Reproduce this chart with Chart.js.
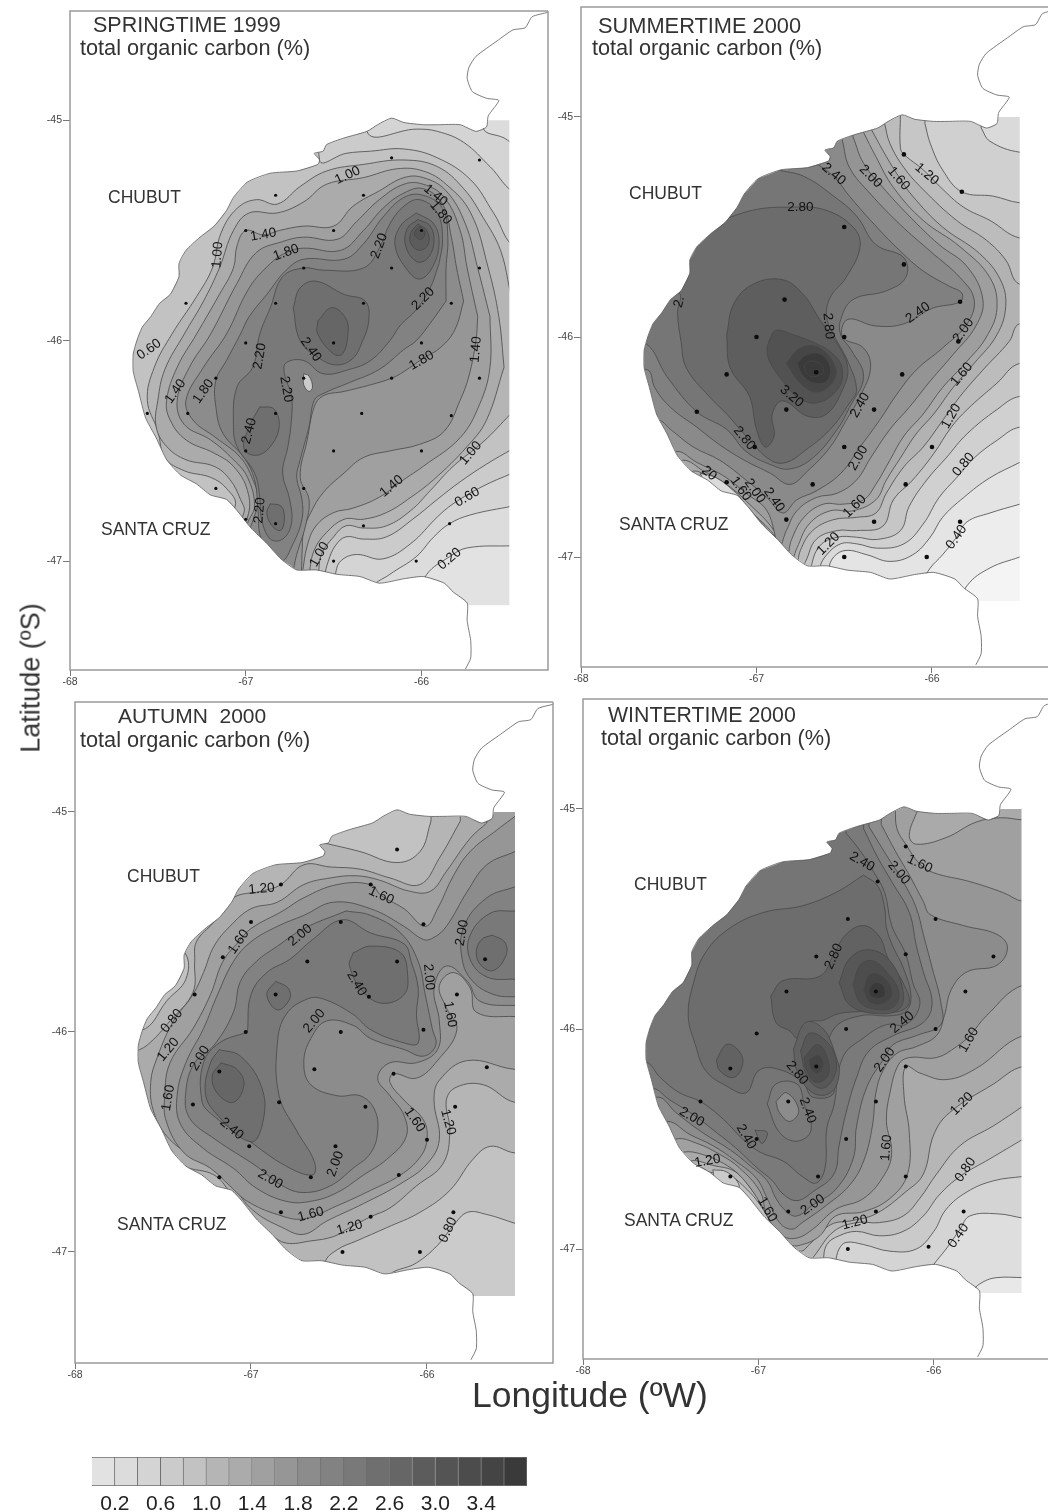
<!DOCTYPE html>
<html>
<head>
<meta charset="utf-8">
<title>total organic carbon</title>
<script src="https://cdn.jsdelivr.net/npm/chart.js@4"></script>
<style>
  html, body { margin: 0; padding: 0; background: #fff; }
  #page { position: relative; width: 1048px; height: 1512px; overflow: hidden; font-family: "Liberation Sans", Arial, sans-serif; color: #333; filter: blur(0.45px); }
  #page canvas { position: absolute; }
  .txt { position: absolute; line-height: 1; white-space: pre; }
</style>
</head>
<body>
<div id="page"></div>
<script>
// ---- shared scales ----
var lon_ticks = [-68, -67, -66];
var lat_ticks = [-45, -46, -47];
var legend_ticks = [0.2, 0.6, 1.0, 1.4, 1.8, 2.2, 2.6, 3.0, 3.4];
var legend_steps = [0.2, 0.2, 0.2, 0.2, 0.2, 0.2, 0.2, 0.2, 0.2, 0.2, 0.2, 0.2, 0.2, 0.2, 0.2, 0.2, 0.2, 0.2, 0.2];
var band_grays = ['#e2e2e2', '#dcdcdc', '#d4d4d4', '#cbcbcb', '#c2c2c2', '#b5b5b5', '#ababab', '#a0a0a0', '#969696', '#8c8c8c', '#828282', '#797979', '#6f6f6f', '#666666', '#5c5c5c', '#545454', '#4c4c4c', '#444444', '#3a3a3a'];
// the summer and winter maps were printed a little lighter than the scale bar
var summer_grays = ['#f4f4f4', '#ededed', '#e4e4e4', '#dadada', '#d0d0d0', '#c6c6c6', '#bcbcbc', '#b2b2b2', '#a8a8a8', '#9e9e9e', '#949494', '#8a8a8a', '#808080', '#767676', '#6c6c6c', '#5e5e5e', '#525252', '#464646', '#3a3a3a'];
var winter_grays = ['#e8e8e8', '#dedede', '#d4d4d4', '#cacaca', '#c0c0c0', '#b6b6b6', '#aaaaaa', '#a0a0a0', '#969696', '#8c8c8c', '#828282', '#7a7a7a', '#757575', '#6d6d6d', '#626262', '#575757', '#4d4d4d', '#444444', '#3a3a3a'];

// ---- coast (lon,lat pairs) ----
var peninsula_points = [-65.28,-44.51, -65.37,-44.53, -65.41,-44.58, -65.48,-44.59, -65.57,-44.64, -65.69,-44.71, -65.73,-44.76, -65.74,-44.81, -65.71,-44.87, -65.63,-44.90, -65.56,-44.91, -65.62,-44.98];
var shore_points = [-65.63,-45.03, -65.69,-45.05, -65.78,-45.02, -65.91,-45.02, -65.99,-45.02, -66.10,-45.01, -66.17,-44.99, -66.25,-45.02, -66.31,-45.05, -66.44,-45.08, -66.54,-45.11, -66.56,-45.14, -66.61,-45.15, -66.58,-45.18, -66.59,-45.20, -66.71,-45.23, -66.86,-45.24, -66.99,-45.28, -67.07,-45.35, -67.11,-45.41, -67.18,-45.48, -67.26,-45.53, -67.34,-45.59, -67.38,-45.65, -67.38,-45.71, -67.43,-45.79, -67.49,-45.83, -67.54,-45.89, -67.59,-45.94, -67.62,-46.00, -67.64,-46.06, -67.64,-46.14, -67.61,-46.23, -67.57,-46.35, -67.51,-46.44, -67.45,-46.54, -67.37,-46.61, -67.28,-46.65, -67.20,-46.70, -67.11,-46.72, -67.05,-46.77, -66.97,-46.85, -66.88,-46.92, -66.80,-46.99, -66.71,-47.04, -66.60,-47.04, -66.48,-47.06, -66.35,-47.07, -66.24,-47.10, -66.10,-47.08, -65.99,-47.07, -65.87,-47.10, -65.82,-47.14, -65.74,-47.19];
var south_points = [-65.74,-47.27, -65.72,-47.36, -65.72,-47.44, -65.75,-47.49];

// ---- SPRINGTIME 1999 ----
var spring_stations = [-66.17,-45.17, -65.67,-45.18, -66.83,-45.34, -66.33,-45.34, -67,-45.50, -66.5,-45.50, -66,-45.50, -66.67,-45.67, -66.17,-45.67, -65.67,-45.67, -67.34,-45.83, -66.83,-45.83, -66.33,-45.83, -65.83,-45.83, -67,-46.01, -66.5,-46.01, -66,-46.01, -66.67,-46.17, -67.17,-46.17, -66.17,-46.17, -65.67,-46.17, -67.56,-46.33, -67.33,-46.33, -66.83,-46.33, -66.34,-46.33, -65.83,-46.34, -67,-46.50, -66.5,-46.50, -66,-46.50, -67.17,-46.67, -66.67,-46.67, -67,-46.81, -66.83,-46.83, -66.33,-46.84, -65.84,-46.83, -66.5,-47.0, -66.03,-47.0];
var spring_labels = [['1.00',-66.42,-45.25,-25],['1.40',-65.92,-45.34,40],['1.80',-65.89,-45.42,50],['1.40',-66.90,-45.52,-10],['1.80',-66.77,-45.60,-20],['2.20',-66.24,-45.57,-70],['1.00',-67.16,-45.61,-85],['2.20',-65.99,-45.81,-45],['0.60',-67.55,-46.04,-35],['1.40',-65.69,-46.04,-85],['2.40',-66.63,-46.04,55],['2.20',-66.92,-46.07,-80],['1.80',-66.0,-46.09,-30],['2.20',-66.77,-46.22,80],['1.40',-67.40,-46.23,-55],['1.80',-67.24,-46.23,-55],['2.40',-66.98,-46.41,-75],['1.00',-65.72,-46.51,-50],['1.40',-66.17,-46.66,-40],['0.60',-65.74,-46.71,-30],['2.20',-66.92,-46.77,-85],['1.00',-66.58,-46.97,-60],['0.20',-65.84,-46.99,-40]];
var spring_base = 0;
var spring_contours = [
 [0.2, [-65.48,-46.93, -65.74,-46.94, -65.84,-46.98, -65.97,-47.06, -66.03,-47.18, -66.5,-47.6, -68.2,-47.6, -68.2,-44.4, -65.2,-44.4, -65.2,-46.93]],
 [0.4, [-65.48,-46.75, -65.72,-46.79, -65.84,-46.83, -65.93,-46.89, -66.03,-46.98, -66.18,-47.06, -66.29,-47.13, -66.5,-47.6, -68.2,-47.6, -68.2,-44.4, -65.66,-44.4, -65.65,-45.03, -65.53,-45.08, -65.46,-45.11, -65.2,-45.12, -65.2,-46.75]],
 [0.6, [-65.48,-46.60, -65.65,-46.66, -65.82,-46.74, -65.91,-46.80, -66.06,-46.92, -66.22,-46.99, -66.37,-46.97, -66.46,-47.00, -66.49,-47.06, -66.51,-47.16, -66.6,-47.6, -68.2,-47.6, -68.2,-44.4, -66.31,-44.4, -66.31,-45.05, -66.03,-45.04, -65.91,-45.05, -65.76,-45.10, -65.61,-45.21, -65.46,-45.33, -65.2,-45.35, -65.2,-46.60]],
 [0.8, [-65.48,-46.49, -65.63,-46.56, -65.78,-46.64, -65.91,-46.72, -66.05,-46.81, -66.20,-46.89, -66.33,-46.90, -66.43,-46.89, -66.49,-46.93, -66.53,-47.00, -66.55,-47.07, -66.6,-47.6, -68.2,-47.6, -68.2,-44.4, -66.58,-44.4, -66.58,-45.18, -66.43,-45.15, -66.29,-45.14, -66.10,-45.13, -65.91,-45.17, -65.72,-45.27, -65.59,-45.42, -65.46,-45.58, -65.2,-45.6, -65.2,-46.49]],
 [1.0, [-65.49,-46.33, -65.65,-46.46, -65.82,-46.57, -65.95,-46.68, -66.06,-46.77, -66.20,-46.84, -66.33,-46.85, -66.43,-46.84, -66.50,-46.89, -66.57,-46.97, -66.59,-47.06, -66.7,-47.3, -67.3,-47.2, -67.06,-46.75, -67.11,-46.67, -67.20,-46.62, -67.35,-46.59, -67.46,-46.53, -67.50,-46.41, -67.56,-46.27, -67.52,-46.12, -67.42,-45.97, -67.28,-45.80, -67.19,-45.67, -67.14,-45.51, -67.05,-45.40, -66.94,-45.36, -66.82,-45.38, -66.69,-45.30, -66.54,-45.23, -66.33,-45.20, -66.10,-45.18, -65.91,-45.21, -65.76,-45.31, -65.65,-45.44, -65.55,-45.59, -65.46,-45.85, -65.3,-46.0, -65.3,-46.2]],
 [1.2, [-65.53,-46.12, -65.63,-46.36, -65.74,-46.48, -65.93,-46.63, -66.06,-46.71, -66.20,-46.78, -66.33,-46.81, -66.44,-46.81, -66.54,-46.87, -66.61,-46.95, -66.64,-47.06, -66.7,-47.3, -67.2,-47.2, -67.01,-46.78, -67.03,-46.72, -67.09,-46.63, -67.18,-46.57, -67.34,-46.54, -67.45,-46.48, -67.51,-46.39, -67.50,-46.27, -67.46,-46.13, -67.35,-45.97, -67.24,-45.82, -67.15,-45.67, -67.07,-45.50, -66.98,-45.42, -66.82,-45.42, -66.67,-45.37, -66.54,-45.29, -66.33,-45.26, -66.14,-45.22, -65.99,-45.23, -65.86,-45.29, -65.72,-45.42, -65.62,-45.67, -65.56,-45.89]],
 [1.4, [-65.61,-45.89, -65.61,-46.12, -65.67,-46.29, -65.78,-46.44, -65.99,-46.57, -66.10,-46.63, -66.24,-46.71, -66.39,-46.76, -66.50,-46.78, -66.60,-46.84, -66.65,-46.93, -66.68,-47.06, -66.75,-47.3, -67.2,-47.2, -66.99,-46.80, -66.99,-46.68, -67.07,-46.57, -67.18,-46.51, -67.34,-46.45, -67.43,-46.36, -67.45,-46.27, -67.39,-46.12, -67.28,-45.97, -67.15,-45.79, -67.07,-45.67, -67.05,-45.57, -67.00,-45.50, -66.90,-45.52, -66.81,-45.50, -66.67,-45.48, -66.50,-45.48, -66.39,-45.39, -66.24,-45.32, -66.10,-45.26, -65.99,-45.26, -65.86,-45.32, -65.75,-45.47, -65.68,-45.67]],
 [1.6, [-65.68,-45.89, -65.69,-46.00, -65.73,-46.16, -65.78,-46.27, -65.87,-46.41, -66.01,-46.47, -66.18,-46.50, -66.33,-46.53, -66.44,-46.60, -66.56,-46.69, -66.63,-46.78, -66.67,-46.86, -66.68,-46.97, -66.69,-47.07, -66.8,-47.3, -67.1,-47.2, -66.99,-46.83, -66.95,-46.75, -66.99,-46.62, -67.07,-46.54, -67.20,-46.45, -67.35,-46.38, -67.39,-46.27, -67.32,-46.12, -67.20,-45.97, -67.05,-45.74, -66.94,-45.60, -66.79,-45.55, -66.67,-45.53, -66.48,-45.54, -66.37,-45.46, -66.24,-45.36, -66.10,-45.29, -65.99,-45.29, -65.87,-45.35, -65.78,-45.50, -65.74,-45.67]],
 [1.8, [-65.76,-45.82, -65.81,-45.95, -65.89,-46.03, -65.99,-46.08, -66.10,-46.14, -66.17,-46.17, -66.29,-46.20, -66.44,-46.23, -66.56,-46.25, -66.61,-46.30, -66.65,-46.45, -66.69,-46.62, -66.64,-46.72, -66.66,-46.84, -66.71,-46.97, -66.74,-47.07, -66.85,-47.3, -67.1,-47.15, -66.97,-46.84, -66.93,-46.72, -66.96,-46.63, -67.03,-46.53, -67.17,-46.44, -67.30,-46.36, -67.34,-46.27, -67.24,-46.12, -67.11,-45.97, -66.98,-45.76, -66.86,-45.65, -66.77,-45.60, -66.67,-45.58, -66.46,-45.59, -66.33,-45.50, -66.22,-45.40, -66.10,-45.33, -65.99,-45.31, -65.88,-45.38, -65.83,-45.53, -65.80,-45.67]],
 [2.0, [-65.86,-45.82, -65.94,-45.91, -66.03,-46.00, -66.10,-46.04, -66.24,-46.13, -66.41,-46.19, -66.56,-46.24, -66.61,-46.27, -66.64,-46.39, -66.69,-46.54, -66.71,-46.62, -66.68,-46.72, -66.68,-46.81, -66.73,-46.92, -66.80,-47.00, -66.91,-46.90, -66.93,-46.77, -66.95,-46.63, -67.01,-46.53, -67.13,-46.42, -67.17,-46.30, -67.17,-46.18, -67.11,-46.09, -67.03,-45.97, -66.98,-45.89, -66.88,-45.79, -66.77,-45.68, -66.67,-45.63, -66.44,-45.63, -66.33,-45.56, -66.22,-45.44, -66.10,-45.35, -65.99,-45.34, -65.88,-45.40, -65.85,-45.53, -65.86,-45.67]],
 [2.2, [-65.90,-45.65, -65.95,-45.76, -66.03,-45.86, -66.12,-45.93, -66.18,-46.00, -66.29,-46.09, -66.41,-46.13, -66.56,-46.15, -66.67,-46.09, -66.77,-46.10, -66.78,-46.15, -66.74,-46.25, -66.74,-46.36, -66.76,-46.48, -66.79,-46.60, -66.75,-46.72, -66.74,-46.83, -66.79,-46.90, -66.86,-46.90, -66.91,-46.81, -66.92,-46.71, -66.95,-46.60, -67.05,-46.48, -67.07,-46.38, -67.05,-46.21, -66.96,-46.12, -66.92,-45.97, -66.86,-45.85, -66.79,-45.71, -66.67,-45.67, -66.56,-45.68, -66.33,-45.67, -66.24,-45.58, -66.18,-45.47, -66.10,-45.39, -66.01,-45.36, -65.91,-45.42, -65.88,-45.54]],
 [0.6, [-66.67,-46.15, -66.64,-46.16, -66.62,-46.21, -66.64,-46.23, -66.67,-46.20]],
 [2.4, [-66.73,-45.85, -66.69,-45.76, -66.60,-45.73, -66.44,-45.79, -66.32,-45.82, -66.30,-45.91, -66.34,-46.01, -66.39,-46.08, -66.48,-46.11, -66.58,-46.08, -66.69,-46.00]],
 [2.4, [-66.92,-46.30, -66.84,-46.31, -66.81,-46.39, -66.86,-46.48, -66.94,-46.52, -67.01,-46.49, -66.98,-46.39]],
 [2.4, [-66.86,-46.74, -66.80,-46.75, -66.78,-46.80, -66.80,-46.86, -66.85,-46.84, -66.88,-46.78]],
 [2.4, [-66.03,-45.42, -65.93,-45.47, -65.90,-45.56, -65.94,-45.67, -66.01,-45.72, -66.08,-45.68, -66.15,-45.57, -66.12,-45.48]],
 [2.6, [-66.59,-45.91, -66.51,-45.85, -66.43,-45.90, -66.42,-45.98, -66.45,-46.06, -66.50,-46.06, -66.59,-45.97]],
 [2.6, [-66.02,-45.45, -65.95,-45.48, -65.93,-45.56, -65.97,-45.63, -66.03,-45.64, -66.09,-45.57, -66.08,-45.49]],
 [2.8, [-66.02,-45.47, -65.97,-45.50, -65.96,-45.56, -66.01,-45.59, -66.06,-45.56, -66.06,-45.51]],
 [3.0, [-66.01,-45.48, -65.98,-45.51, -66.00,-45.54, -66.03,-45.53, -66.04,-45.51]]
];

// ---- SUMMERTIME 2000 ----
var summer_stations = [-66.16,-45.17, -65.83,-45.34, -66.5,-45.50, -66.16,-45.67, -66.84,-45.83, -65.84,-45.84, -66.5,-46.0, -67.0,-46.0, -65.85,-46.02, -66.17,-46.17, -66.66,-46.16, -67.17,-46.17, -66.33,-46.33, -66.83,-46.33, -67.34,-46.34, -66.5,-46.5, -66.0,-46.5, -67.01,-46.5, -66.15,-46.67, -66.68,-46.67, -67.17,-46.66, -66.33,-46.84, -66.83,-46.83, -65.84,-46.84, -66.5,-47.0, -66.03,-47.0];
var summer_labels = [['2.40',-66.56,-45.26,40],['2.00',-66.35,-45.27,45],['1.60',-66.19,-45.28,50],['1.20',-66.03,-45.26,40],['2.80',-66.75,-45.41,0],['2.',-67.44,-45.84,-75],['2.40',-66.08,-45.89,-35],['2.80',-66.59,-45.95,85],['2.00',-65.82,-45.97,-55],['1.60',-65.83,-46.17,-50],['3.20',-66.80,-46.27,40],['2.40',-66.41,-46.31,-60],['1.20',-65.89,-46.36,-60],['2.80',-67.07,-46.46,50],['2.00',-66.42,-46.55,-60],['0.80',-65.82,-46.58,-50],['20',-67.27,-46.62,40],['1.60',-67.09,-46.69,55],['2.00',-67.01,-46.70,55],['2.40',-66.90,-46.74,55],['1.60',-66.44,-46.77,-45],['1.20',-66.59,-46.94,-45],['0.40',-65.86,-46.91,-55]];
var summer_base = 0;
var summer_contours = [
 [0.2, [-65.50,-47.00, -65.67,-47.05, -65.80,-47.13, -66.2,-47.6, -68.2,-47.6, -68.2,-44.4, -65.2,-44.4, -65.2,-47.0]],
 [0.4, [-65.50,-46.76, -65.67,-46.80, -65.80,-46.84, -65.86,-46.91, -65.94,-46.99, -66.01,-47.05, -66.05,-47.11, -66.3,-47.6, -68.2,-47.6, -68.2,-44.4, -65.2,-44.4, -65.2,-46.76]],
 [0.6, [-65.50,-46.57, -65.67,-46.64, -65.82,-46.73, -65.94,-46.82, -66.01,-46.91, -66.11,-46.99, -66.24,-47.02, -66.37,-46.99, -66.49,-46.97, -66.56,-47.00, -66.59,-47.06, -66.7,-47.6, -68.2,-47.6, -68.2,-44.4, -65.2,-44.4, -65.2,-46.57]],
 [0.8, [-65.72,-45.05, -65.67,-45.11, -65.50,-45.16, -65.2,-45.17, -65.2,-46.41, -65.50,-46.41, -65.63,-46.47, -65.76,-46.55, -65.86,-46.64, -65.96,-46.73, -66.05,-46.85, -66.16,-46.94, -66.31,-46.96, -66.43,-46.94, -66.52,-46.94, -66.60,-46.99, -66.64,-47.05, -66.7,-47.3, -68.2,-47.6, -68.2,-44.4, -65.72,-44.4]],
 [1.0, [-66.04,-45.03, -66.01,-45.12, -65.94,-45.24, -65.83,-45.34, -65.65,-45.36, -65.50,-45.39, -65.2,-45.4, -65.2,-46.27, -65.50,-46.27, -65.63,-46.33, -65.80,-46.44, -65.92,-46.55, -66.03,-46.65, -66.13,-46.77, -66.18,-46.88, -66.31,-46.92, -66.43,-46.91, -66.54,-46.91, -66.64,-46.95, -66.69,-47.05, -66.75,-47.3, -68.2,-47.6, -68.2,-44.4, -66.04,-44.4]],
 [1.2, [-66.18,-44.99, -66.18,-45.14, -66.16,-45.17, -66.05,-45.24, -65.95,-45.32, -65.82,-45.41, -65.67,-45.47, -65.50,-45.55, -65.2,-45.56, -65.2,-46.12, -65.50,-46.12, -65.63,-46.21, -65.80,-46.33, -65.89,-46.41, -65.99,-46.53, -66.11,-46.65, -66.22,-46.74, -66.28,-46.86, -66.43,-46.88, -66.54,-46.88, -66.66,-46.92, -66.72,-47.02, -66.77,-47.09, -66.85,-46.97, -66.98,-46.85, -67.09,-46.74, -67.17,-46.69, -67.23,-46.67, -67.34,-46.74, -68.2,-46.74, -68.2,-44.4, -66.18,-44.4]],
 [1.4, [-66.27,-45.03, -66.24,-45.12, -66.16,-45.23, -66.05,-45.33, -65.86,-45.47, -65.69,-45.56, -65.58,-45.65, -65.50,-45.76, -65.2,-45.77, -65.2,-45.94, -65.50,-45.94, -65.56,-46.02, -65.71,-46.15, -65.84,-46.27, -65.94,-46.38, -66.05,-46.50, -66.16,-46.59, -66.26,-46.71, -66.32,-46.80, -66.43,-46.82, -66.56,-46.83, -66.68,-46.88, -66.75,-46.97, -66.78,-47.06, -66.87,-46.94, -67.00,-46.82, -67.11,-46.73, -67.21,-46.67, -67.30,-46.62, -67.40,-46.68, -68.2,-46.68, -68.2,-44.4, -66.27,-44.4]],
 [1.6, [-66.35,-45.05, -66.26,-45.18, -66.19,-45.27, -66.11,-45.36, -65.94,-45.50, -65.73,-45.62, -65.61,-45.74, -65.58,-45.86, -65.63,-45.99, -65.76,-46.12, -65.88,-46.23, -65.99,-46.35, -66.09,-46.44, -66.18,-46.55, -66.26,-46.65, -66.32,-46.74, -66.45,-46.79, -66.58,-46.79, -66.70,-46.85, -66.77,-46.96, -66.81,-47.03, -66.89,-46.91, -67.02,-46.80, -67.13,-46.71, -67.27,-46.64, -67.36,-46.61, -67.46,-46.67, -68.2,-46.67, -68.2,-44.4, -66.35,-44.4]],
 [1.8, [-66.39,-45.07, -66.32,-45.18, -66.22,-45.32, -66.05,-45.47, -65.84,-45.59, -65.67,-45.73, -65.63,-45.87, -65.69,-46.00, -65.80,-46.11, -65.94,-46.23, -66.05,-46.35, -66.16,-46.45, -66.24,-46.56, -66.32,-46.67, -66.39,-46.74, -66.51,-46.76, -66.62,-46.76, -66.73,-46.82, -66.80,-46.92, -66.83,-47.00, -66.90,-46.88, -67.04,-46.76, -67.17,-46.67, -67.30,-46.61, -67.42,-46.56, -67.51,-46.62, -68.2,-46.62, -68.2,-44.4, -66.39,-44.4]],
 [2.0, [-66.45,-45.09, -66.39,-45.21, -66.28,-45.32, -66.13,-45.45, -65.96,-45.58, -65.80,-45.68, -65.71,-45.83, -65.75,-45.95, -65.88,-46.08, -66.01,-46.20, -66.13,-46.32, -66.24,-46.42, -66.35,-46.55, -66.43,-46.65, -66.54,-46.71, -66.66,-46.73, -66.77,-46.79, -66.83,-46.88, -66.87,-46.95, -66.94,-46.79, -67.06,-46.71, -67.19,-46.63, -67.34,-46.57, -67.455,-46.52, -67.55,-46.58, -68.2,-46.58, -68.2,-44.4, -66.45,-44.4]],
 [2.2, [-66.51,-45.11, -66.47,-45.23, -66.35,-45.35, -66.18,-45.49, -66.01,-45.61, -65.84,-45.73, -65.76,-45.83, -65.80,-45.94, -65.94,-46.05, -66.09,-46.15, -66.20,-46.26, -66.30,-46.38, -66.41,-46.50, -66.52,-46.62, -66.66,-46.70, -66.77,-46.74, -66.85,-46.80, -66.94,-46.73, -67.06,-46.65, -67.21,-46.56, -67.36,-46.50, -67.49,-46.42, -67.56,-46.38, -67.68,-46.44, -68.2,-46.44, -68.2,-44.4, -66.51,-44.4]],
 [2.4, [-66.66,-45.21, -66.56,-45.27, -66.47,-45.36, -66.35,-45.47, -66.18,-45.61, -66.05,-45.70, -65.90,-45.77, -65.83,-45.80, -65.84,-45.84, -66.00,-45.87, -66.16,-45.94, -66.32,-45.95, -66.48,-45.92, -66.51,-46.00, -66.39,-46.05, -66.35,-46.14, -66.41,-46.27, -66.49,-46.38, -66.58,-46.50, -66.71,-46.61, -66.81,-46.67, -66.92,-46.62, -67.07,-46.56, -67.21,-46.49, -67.34,-46.41, -67.49,-46.32, -67.58,-46.23, -67.62,-46.15, -67.78,-46.15, -68.2,-45.6, -67.5,-45.0, -66.66,-45.0]],
 [2.6, [-66.885,-45.24, -66.73,-45.27, -66.56,-45.36, -66.43,-45.45, -66.32,-45.58, -66.16,-45.64, -66.15,-45.73, -66.26,-45.79, -66.45,-45.83, -66.52,-45.92, -66.52,-45.99, -66.46,-46.06, -66.39,-46.18, -66.47,-46.32, -66.54,-46.42, -66.68,-46.55, -66.81,-46.60, -66.92,-46.58, -67.06,-46.52, -67.17,-46.42, -67.34,-46.34, -67.51,-46.18, -67.63,-46.03, -67.78,-46.03, -68.2,-45.6, -67.5,-45.0, -66.885,-45.0]],
 [2.8, [-67.17,-45.46, -67.00,-45.42, -66.83,-45.41, -66.62,-45.42, -66.45,-45.50, -66.41,-45.59, -66.49,-45.73, -66.58,-45.82, -66.60,-45.91, -66.56,-45.99, -66.48,-46.11, -66.43,-46.24, -66.47,-46.30, -66.58,-46.42, -66.73,-46.52, -66.83,-46.57, -66.92,-46.56, -67.06,-46.45, -67.17,-46.35, -67.27,-46.27, -67.40,-46.14, -67.43,-46.02, -67.45,-45.89, -67.44,-45.80, -67.59,-45.76, -67.40,-45.44, -67.17,-45.38]],
 [3.0, [-67.17,-45.99, -67.13,-45.85, -67.02,-45.76, -66.85,-45.74, -66.73,-45.81, -66.64,-45.92, -66.54,-46.03, -66.48,-46.14, -66.51,-46.24, -66.60,-46.35, -66.71,-46.36, -66.85,-46.29, -66.91,-46.35, -66.90,-46.45, -66.95,-46.50, -67.00,-46.42, -67.04,-46.27, -67.15,-46.14]],
 [3.2, [-66.93,-46.02, -66.89,-45.97, -66.79,-45.99, -66.66,-46.03, -66.56,-46.08, -66.51,-46.15, -66.54,-46.24, -66.66,-46.30, -66.77,-46.27, -66.85,-46.20, -66.92,-46.12, -66.94,-46.06]],
 [3.4, [-66.83,-46.12, -66.75,-46.05, -66.64,-46.05, -66.55,-46.14, -66.57,-46.21, -66.66,-46.25, -66.75,-46.21]],
 [3.6, [-66.77,-46.12, -66.71,-46.08, -66.63,-46.08, -66.58,-46.14, -66.60,-46.20, -66.67,-46.21, -66.73,-46.18]],
 [3.6, [-66.73,-46.13, -66.70,-46.11, -66.64,-46.12, -66.62,-46.16, -66.67,-46.18, -66.71,-46.17]],
 [0.6, [-67.32,-46.62, -67.23,-46.64, -67.13,-46.70, -67.09,-46.74, -67.17,-46.75, -67.28,-46.68]]
];

// ---- AUTUMN 2000 ----
var autumn_stations = [-66.17,-45.17, -66.83,-45.33, -66.32,-45.33, -67,-45.50, -66.49,-45.50, -66.02,-45.51, -67.16,-45.66, -66.68,-45.68, -66.17,-45.68, -65.67,-45.67, -67.32,-45.83, -66.86,-45.83, -66.33,-45.84, -65.83,-45.83, -66.02,-45.99, -66.49,-46.0, -67.03,-46.0, -67.18,-46.18, -66.64,-46.17, -66.19,-46.19, -65.66,-46.16, -67.33,-46.33, -66.84,-46.32, -66.35,-46.34, -65.84,-46.34, -67.01,-46.52, -66.52,-46.52, -66.0,-46.49, -67.18,-46.66, -66.66,-46.66, -66.16,-46.65, -66.83,-46.82, -66.32,-46.84, -65.85,-46.82, -66.48,-47.0, -66.04,-47.0];
var autumn_labels = [['1.20',-66.94,-45.35,-5],['1.60',-66.26,-45.38,25],['2.00',-66.72,-45.56,-40],['1.60',-67.07,-45.59,-55],['2.00',-65.80,-45.55,-80],['2.00',-65.99,-45.75,85],['2.40',-66.40,-45.78,60],['0.80',-67.45,-45.95,-50],['1.60',-65.87,-45.92,80],['2.00',-66.64,-45.95,-50],['2.00',-67.29,-46.12,-60],['1.20',-67.47,-46.08,-50],['1.60',-67.47,-46.30,-80],['2.40',-67.11,-46.44,40],['1.60',-66.07,-46.40,55],['1.20',-65.88,-46.41,75],['2.00',-66.52,-46.60,-70],['2.00',-66.89,-46.67,30],['1.60',-66.66,-46.83,-15],['1.20',-66.44,-46.89,-15],['0.80',-65.88,-46.90,-65]];
var autumn_base = 0.6;
var autumn_contours = [
 [0.8, [-65.50,-46.87, -65.66,-46.83, -65.77,-46.82, -65.85,-46.88, -65.94,-46.97, -66.06,-47.05, -66.23,-47.12, -66.5,-47.6, -68.2,-47.6, -68.2,-44.4, -65.2,-44.4, -65.2,-46.87]],
 [1.0, [-66.59,-45.14, -66.38,-45.18, -66.17,-45.23, -66.04,-45.18, -65.98,-45.05, -65.96,-44.99, -65.2,-44.99, -65.2,-46.55, -65.50,-46.55, -65.64,-46.52, -65.74,-46.58, -65.87,-46.72, -66.04,-46.82, -66.23,-46.89, -66.40,-46.95, -66.51,-46.99, -66.58,-47.05, -66.7,-47.6, -68.2,-47.6, -67.74,-45.985, -67.60,-45.985, -67.48,-45.86, -67.37,-45.76, -67.375,-45.64, -67.55,-45.53, -67.1,-45.08, -66.59,-45.08]],
 [1.2, [-65.81,-45.04, -65.93,-45.21, -66.04,-45.33, -66.21,-45.30, -66.38,-45.26, -66.55,-45.25, -66.70,-45.24, -66.83,-45.33, -66.94,-45.36, -67.10,-45.39, -67.21,-45.50, -67.31,-45.59, -67.32,-45.68, -67.33,-45.82, -67.46,-45.95, -67.59,-46.06, -67.74,-46.14, -67.74,-46.52, -67.46,-46.55, -67.38,-46.61, -67.21,-46.65, -67.12,-46.73, -67.03,-46.84, -66.89,-46.92, -66.80,-46.96, -66.66,-46.95, -66.53,-46.93, -66.44,-46.89, -66.32,-46.84, -66.21,-46.80, -66.06,-46.70, -65.91,-46.60, -65.87,-46.45, -65.89,-46.31, -65.83,-46.25, -65.68,-46.24, -65.50,-46.32, -65.2,-46.32, -65.2,-44.9, -65.81,-44.9]],
 [1.4, [-65.66,-45.05, -65.755,-45.12, -65.89,-45.27, -65.98,-45.36, -66.10,-45.36, -66.27,-45.31, -66.40,-45.29, -66.55,-45.30, -66.70,-45.33, -66.85,-45.41, -67.00,-45.44, -67.12,-45.52, -67.21,-45.61, -67.27,-45.73, -67.33,-45.83, -67.44,-45.95, -67.53,-46.11, -67.57,-46.23, -67.55,-46.37, -67.46,-46.49, -67.31,-46.57, -67.18,-46.61, -67.10,-46.70, -66.99,-46.81, -66.82,-46.89, -66.70,-46.92, -66.57,-46.86, -66.36,-46.78, -66.15,-46.69, -66.00,-46.60, -65.93,-46.49, -65.96,-46.31, -65.93,-46.22, -65.77,-46.13, -65.50,-46.17, -65.2,-46.17, -65.2,-44.9, -65.66,-44.9]],
 [1.6, [-65.50,-45.02, -65.60,-45.08, -65.755,-45.18, -65.85,-45.29, -65.94,-45.44, -66.01,-45.52, -66.13,-45.44, -66.26,-45.38, -66.32,-45.33, -66.51,-45.33, -66.70,-45.39, -66.82,-45.45, -67.00,-45.53, -67.07,-45.59, -67.16,-45.68, -67.23,-45.83, -67.33,-45.985, -67.46,-46.14, -67.49,-46.29, -67.48,-46.41, -67.38,-46.55, -67.23,-46.62, -67.12,-46.70, -67.02,-46.77, -66.85,-46.83, -66.70,-46.85, -66.51,-46.79, -66.32,-46.72, -66.15,-46.65, -66.04,-46.57, -66.00,-46.49, -66.02,-46.40, -66.13,-46.31, -66.21,-46.23, -66.19,-46.19, -66.06,-46.21, -65.94,-46.13, -65.83,-45.99, -65.89,-45.89, -65.93,-45.79, -65.85,-45.73, -65.755,-45.80, -65.72,-45.91, -65.50,-45.93, -65.2,-45.93, -65.2,-45.02]],
 [1.8, [-65.50,-45.18, -65.66,-45.24, -65.77,-45.36, -65.89,-45.52, -65.96,-45.57, -66.02,-45.58, -66.13,-45.52, -66.32,-45.44, -66.53,-45.41, -66.70,-45.47, -66.85,-45.52, -67.00,-45.59, -67.10,-45.68, -67.19,-45.83, -67.27,-45.985, -67.37,-46.14, -67.42,-46.29, -67.40,-46.42, -67.27,-46.53, -67.10,-46.62, -66.97,-46.71, -66.80,-46.77, -66.66,-46.77, -66.51,-46.73, -66.36,-46.65, -66.23,-46.58, -66.12,-46.48, -66.13,-46.38, -66.21,-46.29, -66.28,-46.21, -66.21,-46.14, -66.06,-46.14, -65.94,-46.08, -65.93,-45.95, -65.96,-45.80, -65.89,-45.70, -65.77,-45.77, -65.70,-45.86, -65.50,-45.88, -65.2,-45.88, -65.2,-45.18]],
 [2.0, [-66.46,-45.45, -66.70,-45.53, -66.85,-45.61, -66.97,-45.68, -67.06,-45.77, -67.10,-45.91, -67.21,-46.06, -67.32,-46.14, -67.37,-46.27, -67.35,-46.39, -67.20,-46.49, -66.97,-46.61, -66.82,-46.70, -66.70,-46.73, -66.55,-46.70, -66.42,-46.62, -66.32,-46.55, -66.28,-46.45, -66.30,-46.35, -66.38,-46.29, -66.51,-46.29, -66.66,-46.24, -66.70,-46.14, -66.66,-46.03, -66.57,-45.95, -66.42,-45.97, -66.32,-46.03, -66.13,-46.08, -66.02,-46.11, -65.95,-46.06, -65.97,-45.985, -66.01,-45.83, -66.05,-45.68, -66.15,-45.55, -66.32,-45.47]],
 [2.0, [-65.50,-45.34, -65.66,-45.39, -65.79,-45.52, -65.80,-45.67, -65.74,-45.77, -65.62,-45.83, -65.50,-45.84, -65.2,-45.84, -65.2,-45.34]],
 [2.2, [-65.50,-45.45, -65.64,-45.46, -65.755,-45.56, -65.755,-45.67, -65.66,-45.75, -65.50,-45.76, -65.2,-45.76, -65.2,-45.45]],
 [2.4, [-65.63,-45.56, -65.56,-45.59, -65.55,-45.65, -65.62,-45.72, -65.69,-45.70, -65.72,-45.64, -65.69,-45.58]],
 [2.2, [-67.02,-46.00, -67.00,-45.83, -66.91,-45.73, -66.78,-45.67, -66.65,-45.58, -66.48,-45.49, -66.32,-45.55, -66.13,-45.60, -66.09,-45.68, -66.05,-45.80, -66.06,-45.92, -66.05,-46.05, -66.13,-46.05, -66.32,-45.99, -66.42,-45.92, -66.59,-45.85, -66.68,-45.85, -66.80,-45.92, -66.85,-46.05, -66.84,-46.29, -66.74,-46.45, -66.64,-46.59, -66.65,-46.65, -66.80,-46.61, -67.02,-46.49, -67.23,-46.37, -67.28,-46.31, -67.27,-46.14, -67.18,-46.05]],
 [2.4, [-66.42,-45.64, -66.32,-45.61, -66.15,-45.64, -66.11,-45.74, -66.13,-45.83, -66.25,-45.87, -66.36,-45.82, -66.44,-45.70]],
 [2.4, [-66.86,-45.77, -66.79,-45.80, -66.78,-45.85, -66.85,-45.90, -66.91,-45.83]],
 [2.4, [-67.18,-46.08, -67.06,-46.11, -66.94,-46.25, -66.93,-46.40, -67.00,-46.50, -67.21,-46.36, -67.26,-46.27, -67.23,-46.14]],
 [2.6, [-67.17,-46.14, -67.08,-46.17, -67.04,-46.24, -67.10,-46.32, -67.19,-46.28, -67.22,-46.20]]
];

// ---- WINTERTIME 2000 ----
var winter_stations = [-66.16,-45.17, -66.32,-45.33, -66.49,-45.50, -65.99,-45.50, -66.67,-45.67, -66.16,-45.66, -65.66,-45.67, -66.84,-45.83, -66.33,-45.83, -65.82,-45.83, -67.01,-46.02, -66.5,-46.0, -65.99,-46.0, -67.16,-46.18, -66.67,-46.17, -66.16,-46.17, -67.33,-46.33, -66.83,-46.33, -66.33,-46.33, -67.01,-46.5, -66.5,-46.5, -66.16,-46.67, -66.66,-46.67, -67.16,-46.67, -66.83,-46.83, -66.33,-46.83, -65.83,-46.83, -66.49,-47.0, -66.03,-46.99];
var winter_labels = [['2.40',-66.41,-45.24,30],['2.00',-66.20,-45.29,50],['1.60',-66.08,-45.25,25],['2.80',-66.57,-45.67,-65],['2.40',-66.18,-45.97,-40],['1.60',-65.80,-46.05,-60],['2.00',-66.28,-46.14,-55],['2.80',-66.78,-46.20,50],['2.40',-66.72,-46.37,70],['2.00',-67.38,-46.40,30],['1.20',-65.84,-46.34,-45],['2.40',-67.07,-46.49,60],['1.60',-66.27,-46.54,-85],['0.80',-65.82,-46.64,-55],['1.20',-67.29,-46.60,-10],['2.00',-66.69,-46.80,-35],['1.60',-66.95,-46.82,60],['1.20',-66.45,-46.88,-15],['0.40',-65.86,-46.94,-55]];
var winter_base = 0;
var winter_contours = [
 [0.2, [-65.49,-47.13, -65.64,-47.13, -65.72,-47.15, -65.78,-47.19, -66.2,-47.6, -68.2,-47.6, -68.2,-44.4, -65.2,-44.4, -65.2,-47.13]],
 [0.4, [-65.49,-46.86, -65.64,-46.84, -65.795,-46.85, -65.85,-46.91, -65.93,-47.00, -66.00,-47.07, -66.04,-47.12, -66.3,-47.6, -68.2,-47.6, -68.2,-44.4, -65.2,-44.4, -65.2,-46.86]],
 [0.6, [-65.49,-46.67, -65.66,-46.69, -65.81,-46.74, -65.93,-46.82, -66.00,-46.92, -66.10,-47.00, -66.25,-47.01, -66.40,-46.98, -66.50,-46.97, -66.54,-47.00, -66.56,-47.06, -66.7,-47.6, -68.2,-47.6, -68.2,-44.4, -65.2,-44.4, -65.2,-46.67]],
 [0.8, [-65.49,-46.50, -65.68,-46.59, -65.85,-46.67, -65.97,-46.755, -66.06,-46.85, -66.175,-46.92, -66.31,-46.94, -66.44,-46.92, -66.54,-46.94, -66.61,-46.98, -66.63,-47.06, -66.7,-47.6, -68.2,-47.6, -68.2,-44.4, -65.2,-44.4, -65.2,-46.50]],
 [1.0, [-65.49,-46.35, -65.66,-46.44, -65.85,-46.53, -65.985,-46.66, -66.08,-46.77, -66.175,-46.85, -66.31,-46.88, -66.44,-46.88, -66.57,-46.92, -66.68,-47.03, -66.75,-47.10, -66.84,-47.00, -66.99,-46.80, -67.09,-46.71, -67.16,-46.67, -67.28,-46.65, -67.34,-46.63, -67.47,-46.71, -68.2,-46.71, -68.2,-44.4, -65.2,-44.4, -65.2,-46.35]],
 [0.6, [-67.26,-46.64, -67.18,-46.65, -67.11,-46.71, -67.14,-46.74, -67.24,-46.70]],
 [1.2, [-65.2,-44.4, -65.2,-46.17, -65.49,-46.17, -65.66,-46.25, -65.91,-46.38, -66.00,-46.48, -66.06,-46.66, -66.16,-46.74, -66.33,-46.84, -66.46,-46.87, -66.59,-46.89, -66.71,-46.98, -66.76,-47.01, -66.84,-46.97, -66.93,-46.86, -67.03,-46.74, -67.13,-46.65, -67.26,-46.62, -67.39,-46.60, -67.51,-46.66, -68.2,-46.66, -68.2,-44.4]],
 [1.4, [-66.09,-45.00, -66.14,-45.12, -66.10,-45.16, -65.93,-45.13, -65.76,-45.06, -65.62,-45.04, -65.49,-45.05, -65.2,-45.06, -65.2,-46.03, -65.49,-46.03, -65.76,-46.18, -65.93,-46.23, -66.08,-46.20, -66.16,-46.17, -66.17,-46.30, -66.14,-46.47, -66.15,-46.66, -66.25,-46.77, -66.40,-46.83, -66.56,-46.85, -66.65,-46.94, -66.75,-46.98, -66.82,-46.98, -66.90,-46.92, -66.99,-46.79, -67.09,-46.68, -67.18,-46.62, -67.32,-46.57, -67.43,-46.56, -67.54,-46.60, -68.2,-46.60, -68.2,-44.4, -66.09,-44.4]],
 [1.6, [-66.22,-45.00, -66.21,-45.09, -66.16,-45.16, -66.08,-45.25, -66.00,-45.29, -65.795,-45.33, -65.605,-45.38, -65.49,-45.42, -65.2,-45.43, -65.2,-45.80, -65.49,-45.80, -65.70,-45.94, -65.795,-46.03, -65.87,-46.08, -65.985,-46.13, -66.14,-46.13, -66.20,-46.16, -66.25,-46.29, -66.27,-46.42, -66.24,-46.56, -66.28,-46.66, -66.40,-46.77, -66.56,-46.82, -66.69,-46.91, -66.78,-46.95, -66.86,-46.94, -66.95,-46.85, -66.99,-46.74, -67.11,-46.63, -67.22,-46.57, -67.35,-46.52, -67.47,-46.50, -67.58,-46.56, -68.2,-46.56, -68.2,-44.4, -66.22,-44.4]],
 [1.8, [-66.30,-45.07, -66.22,-45.19, -66.14,-45.30, -66.06,-45.42, -66.02,-45.48, -65.83,-45.53, -65.64,-45.57, -65.58,-45.63, -65.64,-45.71, -65.81,-45.74, -65.90,-45.82, -65.94,-45.94, -65.985,-46.03, -66.10,-46.08, -66.21,-46.11, -66.29,-46.19, -66.33,-46.29, -66.35,-46.44, -66.40,-46.60, -66.48,-46.71, -66.61,-46.80, -66.75,-46.88, -66.81,-46.91, -66.88,-46.88, -66.95,-46.77, -67.01,-46.68, -67.13,-46.60, -67.26,-46.53, -67.39,-46.48, -67.52,-46.42, -67.66,-46.48, -68.2,-46.48, -68.2,-44.4, -66.30,-44.4]],
 [2.0, [-66.37,-45.08, -66.27,-45.21, -66.175,-45.33, -66.10,-45.45, -66.06,-45.57, -66.01,-45.72, -65.96,-45.88, -65.96,-45.98, -66.10,-46.03, -66.23,-46.07, -66.28,-46.13, -66.38,-46.26, -66.44,-46.44, -66.46,-46.59, -66.56,-46.73, -66.69,-46.80, -66.78,-46.85, -66.84,-46.83, -66.90,-46.77, -66.95,-46.69, -67.05,-46.62, -67.16,-46.55, -67.32,-46.47, -67.47,-46.38, -67.57,-46.31, -67.73,-46.36, -68.2,-46.36, -68.2,-44.4, -66.37,-44.4]],
 [2.2, [-66.40,-45.09, -66.32,-45.22, -66.24,-45.33, -66.14,-45.47, -66.10,-45.62, -66.06,-45.74, -66.01,-45.88, -66.06,-45.97, -66.23,-46.03, -66.37,-46.10, -66.44,-46.22, -66.50,-46.38, -66.54,-46.53, -66.57,-46.66, -66.69,-46.74, -66.78,-46.78, -66.86,-46.75, -66.92,-46.69, -67.01,-46.63, -67.13,-46.54, -67.24,-46.47, -67.37,-46.39, -67.51,-46.32, -67.60,-46.27, -67.75,-46.29, -68.2,-46.29, -68.2,-44.4, -66.40,-44.4]],
 [2.4, [-66.50,-45.11, -66.42,-45.19, -66.34,-45.29, -66.28,-45.38, -66.24,-45.53, -66.16,-45.66, -66.12,-45.79, -66.08,-45.89, -66.16,-45.98, -66.27,-45.98, -66.40,-46.04, -66.52,-46.13, -66.57,-46.35, -66.61,-46.45, -66.62,-46.63, -66.67,-46.70, -66.75,-46.67, -66.86,-46.60, -66.99,-46.56, -67.09,-46.50, -67.20,-46.41, -67.33,-46.33, -67.45,-46.29, -67.56,-46.22, -67.64,-46.15, -67.79,-46.15, -68.2,-45.7, -67.5,-45.0, -66.50,-45.0]],
 [2.2, [-66.95,-46.34, -66.90,-46.25, -66.78,-46.25, -66.74,-46.34, -66.70,-46.46, -66.78,-46.51, -66.88,-46.47]],
 [1.8, [-66.90,-46.33, -66.84,-46.29, -66.77,-46.37, -66.82,-46.42, -66.88,-46.38]],
 [2.6, [-67.02,-46.46, -66.95,-46.47, -66.98,-46.52]],
 [2.6, [-66.40,-45.30, -66.56,-45.38, -66.75,-45.44, -66.97,-45.47, -67.16,-45.54, -67.30,-45.65, -67.37,-45.79, -67.40,-45.94, -67.36,-46.07, -67.30,-46.19, -67.18,-46.26, -67.07,-46.29, -67.00,-46.19, -66.90,-46.18, -66.75,-46.24, -66.69,-46.31, -66.57,-46.29, -66.61,-46.15, -66.57,-46.00, -66.42,-45.94, -66.25,-45.94, -66.16,-45.92, -66.13,-45.85, -66.175,-45.72, -66.23,-45.63, -66.27,-45.54, -66.28,-45.45, -66.32,-45.35]],
 [2.8, [-66.93,-45.85, -66.86,-45.78, -66.65,-45.76, -66.57,-45.66, -66.50,-45.57, -66.40,-45.53, -66.31,-45.58, -66.26,-45.68, -66.175,-45.79, -66.14,-45.88, -66.20,-45.92, -66.37,-45.92, -66.54,-45.93, -66.63,-45.96, -66.71,-45.97, -66.78,-46.04, -66.82,-46.01, -66.90,-45.97]],
 [2.8, [-67.24,-46.14, -67.18,-46.07, -67.11,-46.10, -67.09,-46.16, -67.14,-46.22, -67.22,-46.19]],
 [2.8, [-66.80,-46.09, -66.73,-45.97, -66.63,-46.00, -66.56,-46.12, -66.54,-46.21, -66.59,-46.29, -66.69,-46.29, -66.78,-46.19]],
 [3.0, [-66.76,-46.10, -66.71,-46.02, -66.62,-46.05, -66.56,-46.13, -66.57,-46.22, -66.64,-46.27, -66.72,-46.22]],
 [3.2, [-66.74,-46.13, -66.66,-46.07, -66.60,-46.15, -66.61,-46.22, -66.68,-46.24, -66.73,-46.18]],
 [3.4, [-66.71,-46.14, -66.66,-46.12, -66.63,-46.16, -66.66,-46.20, -66.70,-46.18]],
 [3.0, [-66.54,-45.79, -66.48,-45.68, -66.37,-45.64, -66.25,-45.69, -66.175,-45.83, -66.20,-45.91, -66.33,-45.93, -66.48,-45.89]],
 [3.2, [-66.46,-45.80, -66.42,-45.71, -66.35,-45.69, -66.27,-45.74, -66.20,-45.83, -66.23,-45.90, -66.33,-45.91, -66.42,-45.88]],
 [3.4, [-66.40,-45.82, -66.36,-45.75, -66.28,-45.77, -66.24,-45.84, -66.28,-45.88, -66.36,-45.88]],
 [3.6, [-66.37,-45.82, -66.34,-45.79, -66.29,-45.80, -66.28,-45.85, -66.32,-45.86, -66.36,-45.85]]
];

// ---- layout (pixels on the page) ----
var panels = [
  { box: [70, 11, 548, 670],    xmax: -65.28,  ymin: -47.494, ymax: -44.504, closed: true,  grays: band_grays,   dot: 1.6, base: spring_base, contours: spring_contours, stations: spring_stations, labels: spring_labels },
  { box: [581, 7, 1048, 667],   xmax: -65.339, ymin: -47.5,   ymax: -44.5,   closed: false, grays: summer_grays, dot: 2.3, base: summer_base, contours: summer_contours, stations: summer_stations, labels: summer_labels },
  { box: [75, 702, 553, 1363],  xmax: -65.284, ymin: -47.505, ymax: -44.5,   closed: true,  grays: band_grays,   dot: 2,   base: autumn_base, contours: autumn_contours, stations: autumn_stations, labels: autumn_labels },
  { box: [583, 699, 1048, 1359], xmax: -65.349, ymin: -47.5,  ymax: -44.5,   closed: false, grays: winter_grays, dot: 2,   base: winter_base, contours: winter_contours, stations: winter_stations, labels: winter_labels }
];
var page_labels = [
  ['SPRINGTIME 1999', 93, 33, 21.5], ['total organic carbon (%)', 80, 55, 21.7], ['CHUBUT', 108, 204, 17.5], ['SANTA CRUZ', 101, 536, 17.5],
  ['SUMMERTIME 2000', 598, 33, 21.8], ['total organic carbon (%)', 592, 55, 21.7], ['CHUBUT', 629, 200, 17.5], ['SANTA CRUZ', 619, 531, 17.5],
  ['AUTUMN  2000', 118, 723, 21], ['total organic carbon (%)', 80, 747, 21.7], ['CHUBUT', 127, 883, 17.5], ['SANTA CRUZ', 117, 1231, 17.5],
  ['WINTERTIME 2000', 608, 723, 21.3], ['total organic carbon (%)', 601, 745, 21.7], ['CHUBUT', 634, 891, 17.5], ['SANTA CRUZ', 624, 1227, 17.5],
  ['Longitude (ºW)', 472, 1408, 35.5]
];

var FONT = '"Liberation Sans", Arial, sans-serif';
var page = document.getElementById('page');

function xy(flat) {
  var pts = [];
  for (var i = 0; i < flat.length; i += 2) pts.push({ x: flat[i], y: flat[i + 1] });
  return pts;
}

// tick labels must not push the plot area in, the boxes have to sit where the picture has them
function noScalePadding(s) {
  s.paddingTop = 0; s.paddingBottom = 0; s.paddingLeft = 0; s.paddingRight = 0;
}

// white cover over everything that is not sea: outer box, then the sea outline the other way round
function landMask() {
  var pts = xy([-65.2,-44.4, -65.2,-47.6, -68.2,-47.6, -68.2,-44.4, -65.2,-44.4, -65.5,-45.0, -65.62,-45.0]);
  pts = pts.concat(xy(shore_points));
  return pts.concat(xy([-65.74,-47.2, -65.5,-47.2, -65.5,-45.0, -65.2,-44.4]));
}

var mapLabels = {
  id: 'mapLabels',
  afterDatasetsDraw: function (chart) {
    var labels = chart.options.plugins.mapLabels.items;
    var ctx = chart.ctx;
    ctx.save();
    ctx.fillStyle = '#111';
    ctx.font = '13.5px ' + FONT;
    ctx.textAlign = 'center';
    ctx.textBaseline = 'middle';
    labels.forEach(function (l) {
      ctx.save();
      ctx.translate(chart.scales.x.getPixelForValue(l[1]), chart.scales.y.getPixelForValue(l[2]));
      ctx.rotate(l[3] * Math.PI / 180);
      ctx.fillText(l[0], 0, 0);
      ctx.restore();
    });
    ctx.restore();
  }
};

function drawPanel(p) {
  var gutterX = 40, gutterY = 26, padTop = 3, padRight = p.closed ? 3 : 0;
  var canvas = document.createElement('canvas');
  canvas.width = p.box[2] - p.box[0] + gutterX + padRight;
  canvas.height = p.box[3] - p.box[1] + gutterY + padTop;
  canvas.style.left = (p.box[0] - gutterX) + 'px';
  canvas.style.top = (p.box[1] - padTop) + 'px';
  page.appendChild(canvas);

  var shape = function (pts, level, tension, line) {
    return { data: pts, tension: tension, fill: 'shape', backgroundColor: p.grays[Math.round(level / 0.2)], borderColor: line ? '#484848' : 'transparent', borderWidth: line ? 0.8 : 0, pointRadius: 0 };
  };

  // paint order: first here is painted first (list is reversed for Chart.js further down)
  var sets = [shape(xy([-68.2,-44.4, -65.2,-44.4, -65.2,-47.6, -68.2,-47.6, -68.2,-44.4]), p.base, 0, false)];
  p.contours.forEach(function (c) {
    var pts = xy(c[1]);
    pts.push(pts[0]);
    sets.push(shape(pts, c[0], 0.4, true));
  });
  sets.push({ data: landMask(), tension: 0, fill: 'shape', backgroundColor: '#ffffff', borderWidth: 0, borderColor: 'transparent', pointRadius: 0 });
  sets.push({ data: xy(peninsula_points.concat(shore_points, south_points)), tension: 0.2, fill: false, borderColor: '#5a5a5a', borderWidth: 0.8, pointRadius: 0 });
  var corners = p.closed
    ? [p.xmax, p.ymax, -68, p.ymax, -68, p.ymin, p.xmax, p.ymin, p.xmax, p.ymax]
    : [p.xmax, p.ymax, -68, p.ymax, -68, p.ymin, p.xmax, p.ymin];
  sets.push({ data: xy(corners), tension: 0, fill: false, borderColor: '#9a9a9a', borderWidth: 1.5, pointRadius: 0, clip: false });
  sets.push({ data: xy(p.stations), showLine: false, fill: false, pointRadius: p.dot, pointBorderWidth: 0, pointBackgroundColor: '#0c0c0c' });

  new Chart(canvas, {
    type: 'line',
    data: { datasets: sets.reverse() },
    options: {
      responsive: false,
      animation: false,
      devicePixelRatio: 1,
      layout: { autoPadding: false, padding: { top: padTop, right: padRight, left: 0, bottom: 0 } },
      plugins: { legend: { display: false }, tooltip: { enabled: false }, mapLabels: { items: p.labels } },
      scales: {
        x: {
          type: 'linear', min: -68, max: p.xmax,
          afterBuildTicks: function (s) { s.ticks = lon_ticks.map(function (v) { return { value: v }; }); },
          afterFit: function (s) { s.height = gutterY; noScalePadding(s); },
          grid: { drawOnChartArea: false, tickLength: 6, tickColor: '#777' },
          border: { display: false },
          ticks: { autoSkip: false, maxRotation: 0, padding: 0, color: '#444', font: { size: 10.5, family: FONT }, callback: function (v) { return String(v); } }
        },
        y: {
          type: 'linear', min: p.ymin, max: p.ymax,
          afterBuildTicks: function (s) { s.ticks = lat_ticks.map(function (v) { return { value: v }; }); },
          afterFit: function (s) { s.width = gutterX; noScalePadding(s); },
          grid: { drawOnChartArea: false, tickLength: 7, tickColor: '#777' },
          border: { display: false },
          ticks: { autoSkip: false, padding: 1, color: '#444', font: { size: 10.5, family: FONT }, callback: function (v) { return String(v); } }
        }
      }
    },
    plugins: [mapLabels]
  });
}

function drawScaleBar() {
  var canvas = document.createElement('canvas');
  canvas.width = 476;
  canvas.height = 62;
  canvas.style.left = '72px';
  canvas.style.top = '1450px';
  page.appendChild(canvas);
  new Chart(canvas, {
    type: 'bar',
    data: {
      labels: ['toc'],
      datasets: legend_steps.map(function (step, i) {
        return { data: [step], backgroundColor: band_grays[i], borderColor: '#6e6e6e', borderWidth: 1 };
      })
    },
    options: {
      indexAxis: 'y',
      responsive: false,
      animation: false,
      devicePixelRatio: 1,
      layout: { autoPadding: false, padding: { left: 20, right: 21, top: 7, bottom: 0 } },
      barPercentage: 1,
      categoryPercentage: 1,
      plugins: { legend: { display: false }, tooltip: { enabled: false } },
      scales: {
        y: { stacked: true, display: false },
        x: {
          stacked: true, min: 0, max: 3.8,
          afterBuildTicks: function (s) { s.ticks = legend_ticks.map(function (v) { return { value: v }; }); },
          afterFit: function (s) { s.height = 26; noScalePadding(s); },
          grid: { display: false },
          border: { display: false },
          ticks: { autoSkip: false, maxRotation: 0, padding: -2, color: '#222', font: { size: 21, family: FONT }, callback: function (v) { return v.toFixed(1); } }
        }
      }
    }
  });
}

panels.forEach(drawPanel);
drawScaleBar();

page_labels.forEach(function (t) {
  var el = document.createElement('div');
  el.className = 'txt';
  el.textContent = t[0];
  el.style.left = t[1] + 'px';
  el.style.top = (t[2] - 0.8465 * t[3]) + 'px';
  el.style.fontSize = t[3] + 'px';
  page.appendChild(el);
});

var latTitle = document.createElement('div');
latTitle.className = 'txt';
latTitle.textContent = 'Latitude (ºS)';
latTitle.style.fontSize = '27px';
latTitle.style.left = '31px';
latTitle.style.top = '678px';
latTitle.style.transform = 'translate(-50%, -50%) rotate(-90deg)';
page.appendChild(latTitle);
</script>
</body>
</html>
